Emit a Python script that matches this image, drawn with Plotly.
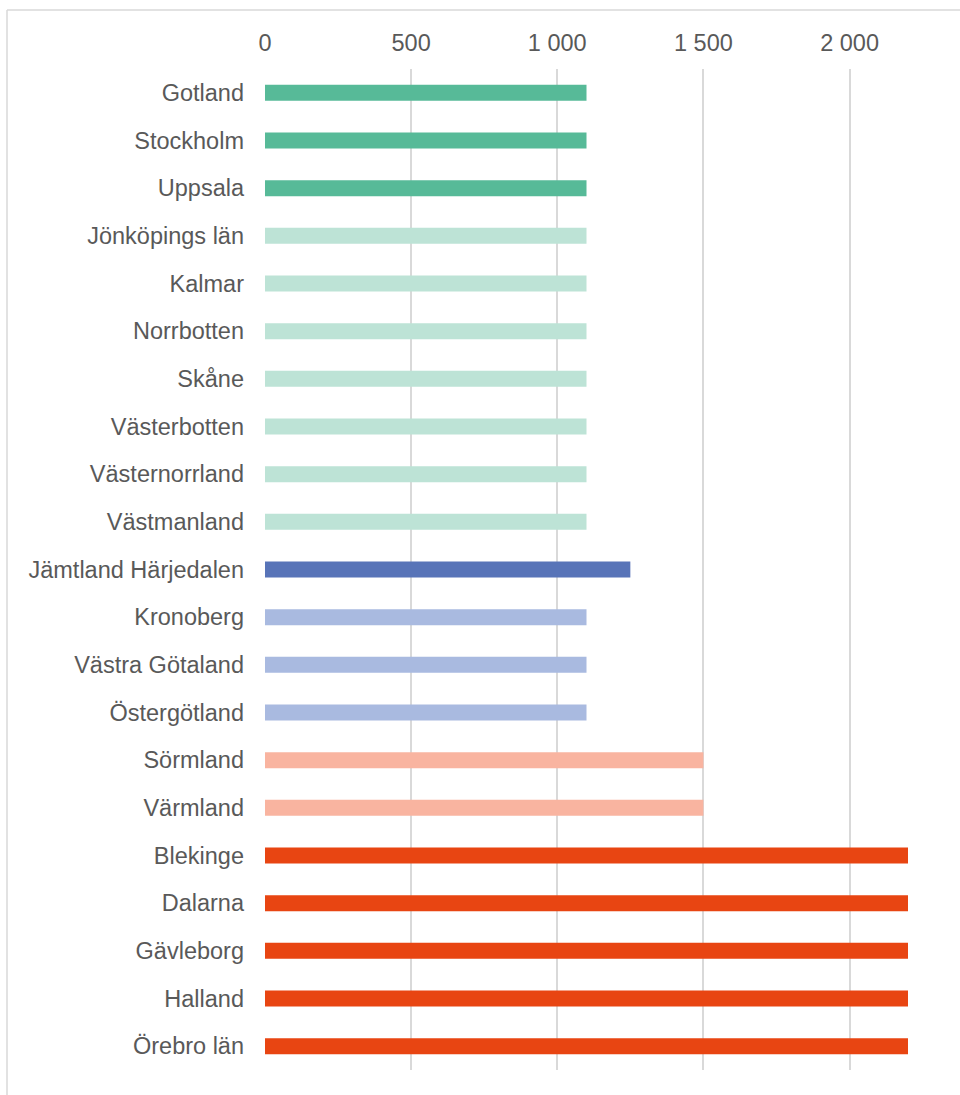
import plotly.graph_objects as go

regions = ["Gotland", "Stockholm", "Uppsala", "Jönköpings län", "Kalmar", "Norrbotten",
           "Skåne", "Västerbotten", "Västernorrland", "Västmanland", "Jämtland Härjedalen",
           "Kronoberg", "Västra Götaland", "Östergötland", "Sörmland", "Värmland",
           "Blekinge", "Dalarna", "Gävleborg", "Halland", "Örebro län"]
values = [1100, 1100, 1100, 1100, 1100, 1100, 1100, 1100, 1100, 1100, 1250,
          1100, 1100, 1100, 1500, 1500, 2200, 2200, 2200, 2200, 2200]
groups = ["g1", "g1", "g1", "g2", "g2", "g2", "g2", "g2", "g2", "g2", "b1",
          "b2", "b2", "b2", "r1", "r1", "r2", "r2", "r2", "r2", "r2"]
group_colors = {"g1": "#57BA98", "g2": "#BDE3D6", "b1": "#5874B8", "b2": "#A9BAE0",
                "r1": "#F9B4A0", "r2": "#E84512"}
tick_values = [0, 500, 1000, 1500, 2000]

colors = [group_colors[g] for g in groups]

fig = go.Figure(go.Bar(
    x=values, y=regions, orientation="h",
    marker=dict(color=colors, line=dict(width=0)),
    width=0.335, hoverinfo="x+y",
))

W, H = 960, 1095
L, R, T, B = 265, 52, 69, 25
pw, ph = W - L - R, H - T - B

fig.update_layout(
    width=W, height=H,
    margin=dict(l=L, r=R, t=T, b=B, pad=0),
    paper_bgcolor="white", plot_bgcolor="white",
    font=dict(family="Liberation Sans, Arial, sans-serif", size=23.5, color="#595959"),
    separators=", ",
    showlegend=False,
    xaxis=dict(
        side="top", range=[0, 2200], tickvals=tick_values, separatethousands=True,
        showgrid=True, gridcolor="#D9D9D9", gridwidth=1.5,
        zeroline=False, showline=False, ticks="", ticklabelstandoff=12,
        fixedrange=True,
    ),
    yaxis=dict(
        autorange="reversed", showgrid=False, zeroline=False, showline=False,
        ticks="", ticklabelstandoff=20, fixedrange=True,
    ),
    shapes=[
        dict(type="line", xref="paper", yref="paper",
             x0=(7 - L) / pw, x1=(7 - L) / pw, y0=-B / ph - 0.01, y1=1 + (T - 10) / ph,
             line=dict(color="#D9D9D9", width=1.5)),
        dict(type="line", xref="paper", yref="paper",
             x0=(7 - L) / pw, x1=1 + R / pw + 0.01, y0=1 + (T - 10) / ph, y1=1 + (T - 10) / ph,
             line=dict(color="#D9D9D9", width=1.5)),
    ],
)

fig.write_html("out.html", config={"displayModeBar": False},
               post_script="document.body.style.margin='0';")
